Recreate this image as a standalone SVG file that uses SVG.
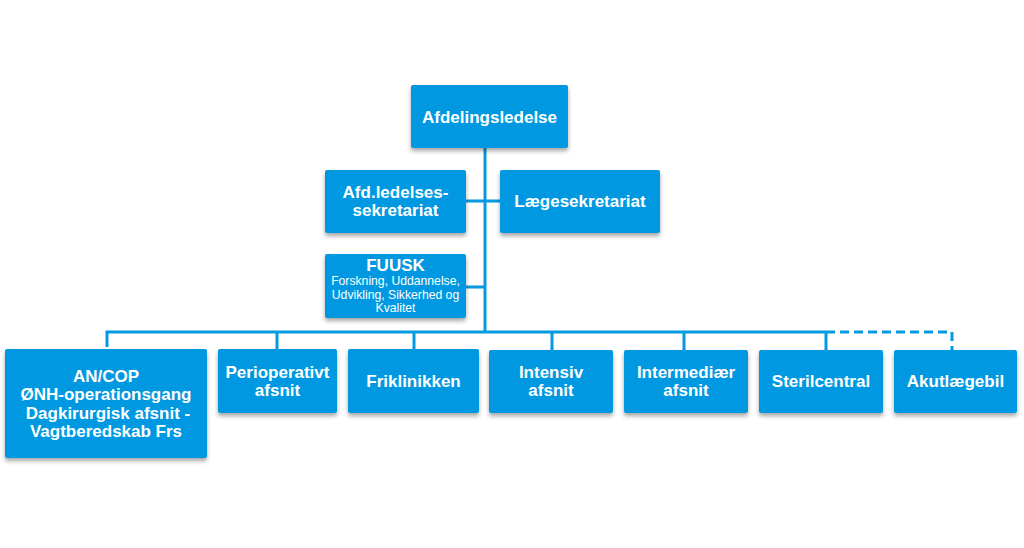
<svg xmlns="http://www.w3.org/2000/svg" width="1024" height="548" viewBox="0 0 1024 548">
<defs>
<filter id="sh" x="-10%" y="-10%" width="120%" height="130%">
<feDropShadow dx="0" dy="3" stdDeviation="2" flood-color="#000" flood-opacity="0.35"/>
</filter>
<style>
.box{fill:#0499e1;filter:url(#sh);}
.t{font-family:"Liberation Sans",Arial,sans-serif;font-weight:bold;fill:#fff;text-anchor:middle;font-size:17px;}
.s{font-family:"Liberation Sans",Arial,sans-serif;fill:#fff;text-anchor:middle;font-size:12.2px;}
.ln{stroke:#0499e1;stroke-width:3;fill:none;}
.dash{stroke:#0499e1;stroke-width:3;fill:none;stroke-dasharray:9 5;}
</style>
</defs>
<rect width="1024" height="548" fill="#fff"/>
<g id="connectors">
<line class="ln" x1="485" y1="148" x2="485" y2="332"/>
<line class="ln" x1="466" y1="201" x2="500" y2="201"/>
<line class="ln" x1="466" y1="287" x2="485" y2="287"/>
<polyline class="ln" points="107,347 107,332 826,332"/>
<line class="ln" x1="277" y1="332" x2="277" y2="349"/>
<line class="ln" x1="414" y1="332" x2="414" y2="349"/>
<line class="ln" x1="552" y1="332" x2="552" y2="350"/>
<line class="ln" x1="684" y1="332" x2="684" y2="350"/>
<line class="ln" x1="826" y1="332" x2="826" y2="350"/>
<polyline class="dash" points="826,332 952,332 952,350"/>
</g>
<g id="n-afdelingsledelse">
<rect class="box" x="411" y="85" width="157" height="63" rx="2"/>
<text class="t" x="489.5" y="123">Afdelingsledelse</text>
</g>
<g id="n-afdsekretariat">
<rect class="box" x="325" y="170" width="141" height="63" rx="2"/>
<text class="t" x="395.5" y="198">Afd.ledelses-</text>
<text class="t" x="395.5" y="216">sekretariat</text>
</g>
<g id="n-laegesekretariat">
<rect class="box" x="500" y="170" width="160" height="63" rx="2"/>
<text class="t" x="580" y="207">Lægesekretariat</text>
</g>
<g id="n-fuusk">
<rect class="box" x="325" y="254" width="141" height="64" rx="2"/>
<text class="t" x="395.5" y="271">FUUSK</text>
<text class="s" x="395.5" y="285">Forskning, Uddannelse,</text>
<text class="s" x="395.5" y="299">Udvikling, Sikkerhed og</text>
<text class="s" x="395.5" y="312">Kvalitet</text>
</g>
<g id="n-ancop">
<rect class="box" x="5" y="349" width="202" height="109" rx="2"/>
<text class="t" x="106" y="382">AN/COP</text>
<text class="t" x="106" y="400">ØNH-operationsgang</text>
<text class="t" x="108" y="419">Dagkirurgisk afsnit -</text>
<text class="t" x="106" y="437">Vagtberedskab Frs</text>
</g>
<g id="n-perioperativt">
<rect class="box" x="218" y="349" width="119" height="64" rx="2"/>
<text class="t" x="277.5" y="378">Perioperativt</text>
<text class="t" x="277.5" y="396">afsnit</text>
</g>
<g id="n-friklinikken">
<rect class="box" x="348" y="349" width="131" height="64" rx="2"/>
<text class="t" x="413.5" y="387">Friklinikken</text>
</g>
<g id="n-intensiv">
<rect class="box" x="489" y="350" width="124" height="63" rx="2"/>
<text class="t" x="551" y="378">Intensiv</text>
<text class="t" x="551" y="396">afsnit</text>
</g>
<g id="n-intermediaer">
<rect class="box" x="624" y="350" width="124" height="63" rx="2"/>
<text class="t" x="686" y="378">Intermediær</text>
<text class="t" x="686" y="396">afsnit</text>
</g>
<g id="n-sterilcentral">
<rect class="box" x="759" y="350" width="124" height="63" rx="2"/>
<text class="t" x="821" y="387">Sterilcentral</text>
</g>
<g id="n-akutlaegebil">
<rect class="box" x="894" y="350" width="123" height="63" rx="2"/>
<text class="t" x="955.5" y="387">Akutlægebil</text>
</g>
</svg>
